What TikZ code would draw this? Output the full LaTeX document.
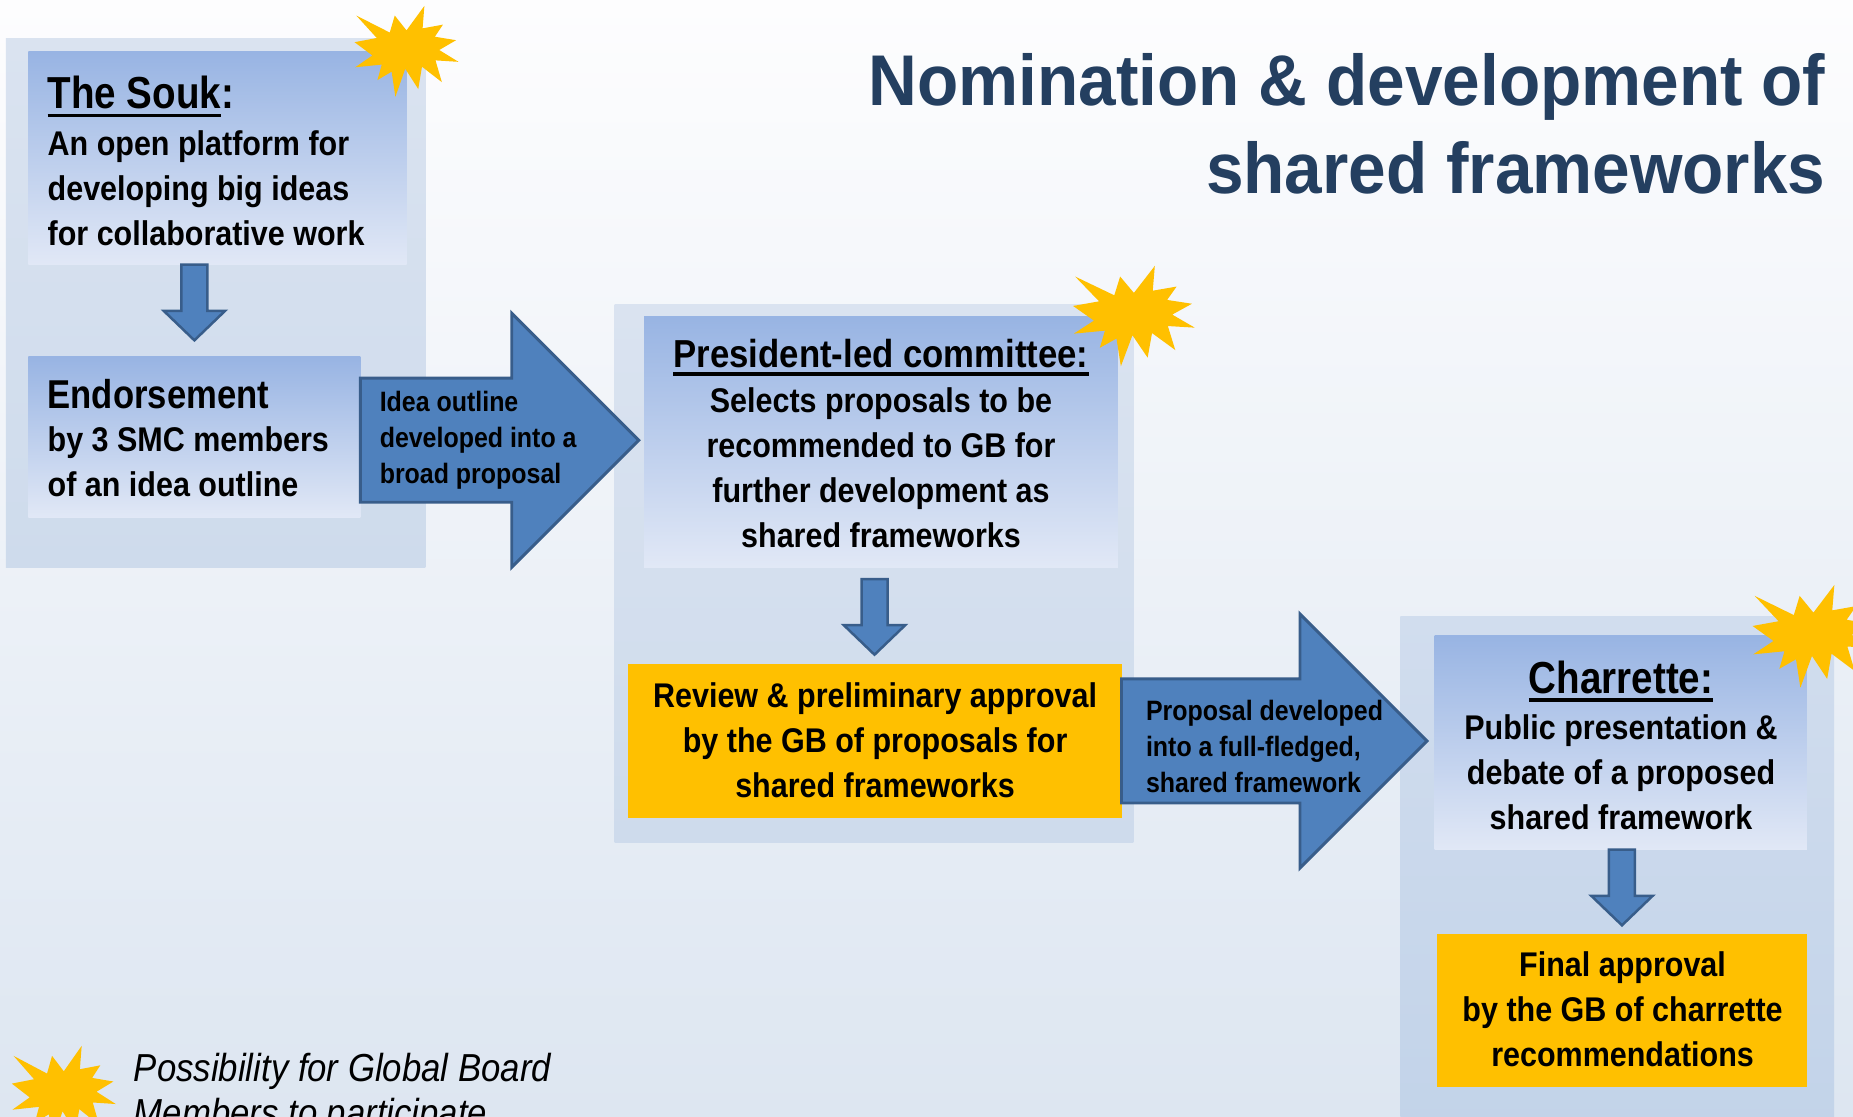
\documentclass[tikz,border=0pt]{standalone}
\usepackage{fontspec}
\setmainfont{Liberation Sans}[FakeStretch=0.89]
\newfontfamily\headfont{Liberation Sans}[FakeStretch=0.86]
\newfontfamily\titlefont{Liberation Sans}[FakeStretch=0.94]
\usetikzlibrary{fit}

\definecolor{pagetop}{RGB}{253,253,254}
\definecolor{pagebottom}{RGB}{221,230,241}
\definecolor{zonetop}{RGB}{218,227,240}
\definecolor{zonebottom}{RGB}{206,219,236}
\definecolor{chartop}{RGB}{209,221,238}
\definecolor{charbottom}{RGB}{194,211,233}
\definecolor{cardtop}{RGB}{152,180,227}
\definecolor{cardbottom}{RGB}{225,232,246}
\definecolor{gold}{RGB}{255,192,0}
\definecolor{arrowfill}{RGB}{79,129,189}
\definecolor{arrowline}{RGB}{56,93,138}
\definecolor{titlenavy}{RGB}{36,63,96}

\newcommand{\bodysize}{\fontsize{16.5}{21.7}\selectfont}
\newcommand{\headsize}{\headfont\fontsize{21.6}{21.7}\selectfont}
\newcommand{\subheadsize}{\headfont\fontsize{19.4}{21.7}\selectfont}
\newcommand{\preshsize}{\fontsize{18.8}{21.7}\selectfont}
\newcommand{\smallsize}{\fontsize{13.5}{17.2}\selectfont}
\newcommand{\titlesize}{\titlefont\fontsize{34.6}{42.4}\selectfont}
\newcommand{\legendsize}{\fontsize{18.8}{21.7}\selectfont}
\newcommand{\undl}[1]{\sbox0{#1}\rlap{\rule[-4.1pt]{\wd0}{1.6pt}}\usebox0}
\newcommand{\droparrow}[3]{\draw[dropstyle] (#1.south -| #2.north) ++(-11,-#3) -- ++(22,0) -- ++(0,-39) -- ++(15,0) -- ++(-26,-25) -- ++(-26,25) -- ++(15,0) -- cycle;}
\newcommand{\flowarrow}[2]{\draw[flowstyle] #1 ++(0,52.5) -- ++(#2,0) -- ++(0,55) -- ++(107.5,-107.5) -- ++(-107.5,-107.5) -- ++(0,55) -- ++(-#2,0) -- cycle;}

\tikzset{burst/.pic={\fill[gold] (50,-26.9) -- (67.2,0) -- (65.5,-24.7) -- (85.1,-20.6) -- (77.3,-33.9) -- (97.7,-37.7) -- (81.5,-48.5) -- (100,-61.5) -- (77.9,-59.9) -- (84.0,-83.8) -- (64.9,-66.9) -- (61.3,-91.4) -- (48.8,-69.1) -- (39.3,-100) -- (35.7,-72.3) -- (22.0,-81.6) -- (26.2,-64.5) -- (0.6,-67.5) -- (17.2,-54.5) -- (0,-39.9) -- (21.4,-35.3) -- (1.7,-10.6) -- (33.9,-29.3) -- (38.7,-10.6) -- cycle;}}

\begin{document}
\begin{tikzpicture}[x=0.02cm, y=0.02cm,
    zone/.style     = {top color=zonetop, bottom color=zonebottom, inner sep=0, outer sep=0},
    card/.style     = {top color=cardtop, bottom color=cardbottom, inner sep=0, outer sep=0},
    goldcard/.style = {fill=gold, inner sep=0, outer sep=0},
    lefttext/.style = {font=\bfseries\bodysize, align=left, inner sep=0, anchor=base west},
    midtext/.style  = {font=\bfseries\bodysize, align=center, inner sep=0, anchor=base},
    arrowtext/.style= {font=\bfseries\smallsize, align=left, inner sep=0, anchor=base west},
    flowstyle/.style= {fill=arrowfill, draw=arrowline, line width=1.4pt},
    dropstyle/.style= {fill=arrowfill, draw=arrowline, line width=1.2pt}]
        %page
        \useasboundingbox (0,0) rectangle (1568,-945);
        \clip (0,0) rectangle (1568,-945);
        \fill[top color=pagetop, bottom color=pagebottom] (0,0) rectangle (1568,-945);

        %zones
        \node[zone, fit={(5,-33) (360,-480)}   ] (soukzone) {};
        \node[zone, fit={(520,-258) (959,-713)}] (preszone) {};
        \node[zone, fit={(1185,-522) (1552,-960)}, top color=chartop, bottom color=charbottom] (charzone) {};

        %cards
        \node[card    , fit={(24,-44) (344,-224)}   ] (souk)      {};
        \node[card    , fit={(24,-302) (305,-438)}  ] (endorse)   {};
        \node[card    , fit={(545,-268) (946,-480)} ] (pres)      {};
        \node[goldcard, fit={(531,-562) (949,-692)} ] (review)    {};
        \node[card    , fit={(1214,-538) (1529,-719)}] (charrette) {};
        \node[goldcard, fit={(1216,-790) (1529,-920)}] (final)     {};

        %card texts
        \node[lefttext] (souktext)      at (40,-207.5)   {{\headsize\undl{The Souk}:}\\[0.7pt]An open platform for\\developing big ideas\\for collaborative work};
        \node[lefttext] (endorsetext)   at (40,-420.3)   {{\subheadsize Endorsement}\\[-0.8pt]by 3 SMC members\\of an idea outline};
        \node[midtext ] (prestext)      at (745.5,-463.1) {{\preshsize\undl{President-led committee:}}\\Selects proposals to be\\recommended to GB for\\further development as\\shared frameworks};
        \node[midtext ] (reviewtext)    at (740.5,-674.7) {Review \& preliminary approval\\by the GB of proposals for\\shared frameworks};
        \node[midtext ] (charrettetext) at (1371.7,-701.8) {{\headsize\undl{Charrette:}}\\[0.5pt]Public presentation \&\\debate of a proposed\\shared framework};
        \node[midtext ] (finaltext)     at (1373,-902.6)  {Final approval\\by the GB of charrette\\recommendations};

        %arrows
        \droparrow{souk}{endorse}{0}
        \droparrow{pres}{review}{10}
        \droparrow{charrette}{final}{0}
        \flowarrow{([yshift=-0.05cm]endorse.east)}{128}
        \flowarrow{(review.east)}{151}
        \node[arrowtext] (idea)     at (321,-409)   {Idea outline\\developed into a\\broad proposal};
        \node[arrowtext] (proposal) at (969.4,-670.5) {Proposal developed\\into a full-fledged,\\shared framework};

        %bursts
        \path (300,-5)    pic[x=0.0176cm, y=0.0154cm] {burst};
        \path (908,-225)  pic[x=0.0206cm, y=0.0170cm] {burst};
        \path (1483,-495) pic[x=0.0206cm, y=0.0174cm] {burst};

        %title
        \node[font=\bfseries\titlesize, text=titlenavy, align=right, anchor=base east, inner sep=0] (title) at (1545,-163.6)
            {Nomination \& development of\\shared frameworks};

        %legend
        \path (10,-885) pic[x=0.0176cm, y=0.0160cm] {burst};
        \node[font=\itshape\legendsize, align=left, anchor=base west, inner sep=0] (legend) at (113,-953)
            {Possibility for Global Board\\Members to participate};
\end{tikzpicture}
\end{document}
